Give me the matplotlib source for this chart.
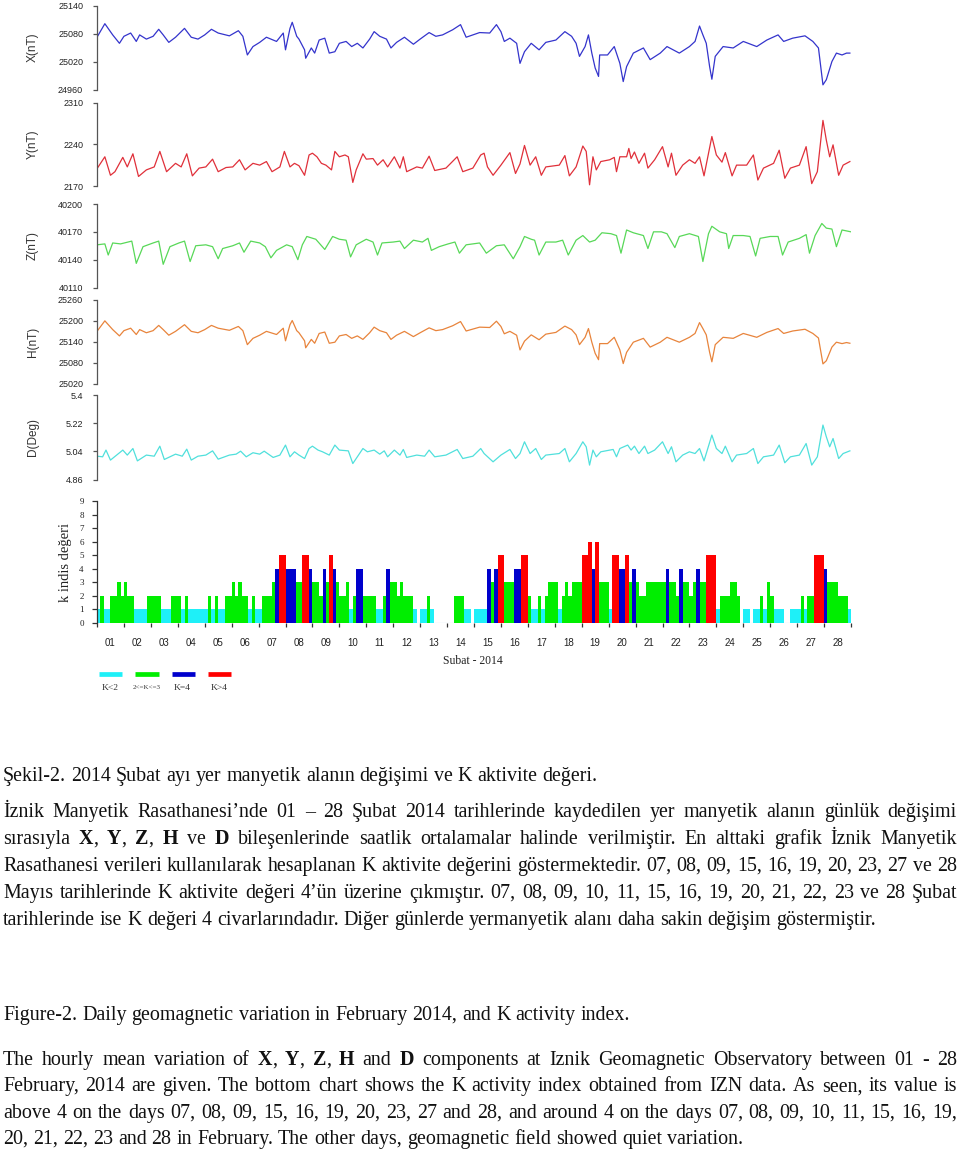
import matplotlib
matplotlib.use("Agg")
import numpy as np
import matplotlib.pyplot as plt

plt.rcParams["font.family"] = "Liberation Sans"

# hourly readings, February 2014 (hour 0 = 01 Feb 00:00)
x_hours = [0, 7, 14, 20, 24, 30, 35, 38, 44, 50, 55, 59, 64, 70, 78, 84, 90, 96, 102, 108,
           118, 126, 130, 134, 139, 145, 151, 160, 166, 168, 172, 174, 178, 180, 185, 186, 191, 194, 198, 203,
           207, 212, 216, 222, 227, 232, 237, 243, 247, 252, 258, 262, 267, 274, 282, 288, 296, 302, 308, 317,
           324, 329, 341, 350, 356, 360, 363, 368, 374, 377, 381, 387, 394, 400, 409, 417, 423, 427, 430, 435,
           438, 441, 444, 447, 448, 455, 461, 466, 469, 472, 478, 487, 493, 502, 508, 519, 528, 533, 537, 540,
           543, 546, 548, 551, 558, 567, 576, 588, 597, 607, 612, 620, 631, 638, 643, 647, 650, 655, 659, 664,
           668, 671]
x_nt = [25072, 25101, 25077, 25059, 25074, 25081, 25063, 25077, 25068, 25074,
        25089, 25077, 25061, 25072, 25091, 25072, 25068, 25077, 25089, 25081,
        25075, 25086, 25074, 25034, 25052, 25061, 25072, 25063, 25081, 25045,
        25091, 25104, 25074, 25068, 25045, 25027, 25049, 25038, 25066, 25070,
        25038, 25041, 25059, 25063, 25052, 25059, 25049, 25068, 25084, 25074,
        25068, 25049, 25061, 25072, 25057, 25068, 25082, 25074, 25077, 25088,
        25099, 25072, 25082, 25081, 25099, 25084, 25063, 25070, 25059, 25016,
        25041, 25059, 25045, 25061, 25066, 25084, 25074, 25059, 25031, 25052,
        25077, 25038, 25006, 24988, 25034, 25034, 25052, 25016, 24977, 25009,
        25038, 25049, 25024, 25038, 25052, 25038, 25052, 25063, 25096, 25077,
        25059, 25009, 24982, 25031, 25052, 25049, 25063, 25052, 25066, 25077,
        25063, 25070, 25075, 25063, 25049, 24970, 24981, 25020, 25038, 25034,
        25038, 25038]
h_nt = [25169, 25199, 25174, 25156, 25171, 25178, 25160, 25174, 25165, 25171,
        25186, 25174, 25158, 25169, 25188, 25169, 25165, 25174, 25186, 25178,
        25172, 25183, 25171, 25131, 25149, 25158, 25169, 25160, 25178, 25142,
        25188, 25200, 25171, 25165, 25142, 25122, 25146, 25135, 25163, 25167,
        25135, 25138, 25156, 25160, 25149, 25156, 25146, 25165, 25181, 25171,
        25165, 25146, 25158, 25169, 25154, 25165, 25179, 25171, 25174, 25185,
        25197, 25170, 25181, 25180, 25198, 25183, 25162, 25169, 25158, 25116,
        25141, 25159, 25145, 25161, 25166, 25184, 25174, 25159, 25131, 25152,
        25177, 25138, 25106, 25088, 25134, 25134, 25152, 25116, 25077, 25109,
        25138, 25149, 25124, 25138, 25152, 25138, 25152, 25163, 25194, 25177,
        25159, 25109, 25082, 25131, 25152, 25149, 25163, 25152, 25166, 25177,
        25163, 25170, 25175, 25163, 25150, 25076, 25085, 25124, 25138, 25134,
        25137, 25135]

y_hours = [0, 7, 12, 16, 23, 27, 32, 37, 44, 51, 56, 62, 70, 75, 80, 85, 91, 97, 103, 108,
           115, 121, 127, 132, 139, 145, 151, 156, 163, 167, 172, 176, 180, 185, 189, 192, 196, 200, 204, 209,
           212, 216, 221, 224, 228, 231, 237, 240, 246, 250, 255, 259, 265, 270, 273, 276, 285, 290, 296, 301,
           311, 321, 326, 335, 342, 345, 348, 353, 360, 368, 373, 377, 381, 386, 391, 396, 400, 412, 417, 421,
           427, 433, 436, 439, 442, 445, 449, 457, 461, 463, 466, 472, 474, 476, 479, 483, 488, 491, 497, 504,
           509, 512, 516, 522, 528, 533, 537, 541, 548, 552, 557, 560, 566, 570, 579, 585, 589, 594, 603, 608,
           613, 618, 626, 632, 637, 642, 647, 650, 653, 656, 661, 665, 671]
y_nt = [2199, 2219, 2188, 2194, 2218, 2202, 2224, 2186, 2197, 2202,
        2228, 2194, 2208, 2202, 2224, 2187, 2200, 2202, 2215, 2194,
        2201, 2202, 2214, 2197, 2208, 2205, 2211, 2194, 2202, 2228,
        2202, 2208, 2204, 2188, 2222, 2225, 2219, 2208, 2205, 2197,
        2228, 2219, 2222, 2219, 2176, 2197, 2224, 2215, 2216, 2205,
        2214, 2202, 2219, 2200, 2219, 2194, 2202, 2200, 2220, 2196,
        2200, 2219, 2194, 2200, 2222, 2225, 2202, 2188, 2205, 2226,
        2191, 2207, 2238, 2205, 2219, 2188, 2202, 2205, 2221, 2187,
        2202, 2237, 2228, 2172, 2219, 2197, 2211, 2214, 2218, 2194,
        2219, 2219, 2233, 2216, 2227, 2208, 2225, 2200, 2214, 2236,
        2202, 2225, 2188, 2205, 2214, 2208, 2219, 2187, 2253, 2222,
        2210, 2226, 2187, 2205, 2205, 2222, 2180, 2200, 2208, 2230,
        2183, 2200, 2205, 2236, 2174, 2194, 2280, 2247, 2219, 2239,
        2188, 2205, 2211]

z_hours = [0, 7, 10, 14, 21, 31, 35, 41, 50, 55, 59, 65, 73, 78, 83, 88, 97, 103, 108, 112,
           121, 127, 131, 137, 145, 150, 155, 160, 169, 174, 179, 183, 187, 195, 203, 210, 216, 222, 226, 231,
           240, 246, 250, 254, 264, 270, 274, 282, 290, 295, 298, 305, 313, 319, 323, 329, 341, 347, 356, 363,
           371, 377, 381, 387, 390, 394, 400, 409, 415, 420, 427, 433, 439, 444, 450, 458, 463, 467, 472, 478,
           487, 491, 496, 503, 508, 515, 519, 528, 536, 540, 545, 548, 555, 561, 563, 567, 576, 582, 587, 591,
           600, 607, 611, 616, 626, 632, 635, 640, 646, 650, 655, 659, 664, 672]
z_nt = [40156, 40157, 40145, 40158, 40157, 40160, 40136, 40154, 40158, 40160,
        40135, 40154, 40158, 40160, 40138, 40155, 40156, 40154, 40141, 40152,
        40155, 40158, 40148, 40160, 40158, 40154, 40142, 40150, 40156, 40154,
        40140, 40156, 40165, 40162, 40151, 40165, 40162, 40161, 40143, 40156,
        40162, 40159, 40145, 40158, 40159, 40160, 40152, 40161, 40159, 40163,
        40150, 40154, 40157, 40159, 40147, 40156, 40158, 40147, 40155, 40156,
        40141, 40154, 40165, 40162, 40161, 40145, 40159, 40159, 40161, 40145,
        40161, 40166, 40159, 40161, 40169, 40168, 40166, 40147, 40172, 40169,
        40166, 40152, 40170, 40170, 40168, 40153, 40165, 40168, 40165, 40138,
        40168, 40176, 40170, 40168, 40152, 40166, 40166, 40165, 40144, 40163,
        40165, 40165, 40145, 40159, 40163, 40167, 40147, 40166, 40179, 40174,
        40173, 40154, 40172, 40170]

d_hours = [0, 5, 8, 12, 23, 27, 32, 36, 44, 51, 56, 60, 70, 76, 80, 84, 90, 97, 103, 108,
           118, 124, 128, 133, 139, 145, 149, 157, 163, 168, 172, 176, 180, 185, 189, 192, 197, 201, 207, 212,
           216, 224, 228, 231, 237, 241, 247, 252, 256, 259, 265, 270, 273, 276, 285, 292, 296, 301, 311, 321,
           326, 335, 342, 345, 353, 360, 368, 373, 377, 381, 386, 391, 396, 400, 412, 417, 421, 427, 433, 436,
           439, 442, 445, 449, 460, 463, 466, 473, 476, 479, 483, 488, 491, 497, 504, 509, 512, 516, 522, 528,
           533, 537, 541, 548, 552, 557, 560, 566, 570, 579, 585, 589, 594, 603, 608, 613, 618, 626, 632, 637,
           642, 647, 650, 653, 656, 661, 665, 671]
d_deg = [5.009, 5.005, 5.048, 4.984, 5.048, 5.016, 5.058, 4.979, 5.016, 5.009,
         5.073, 4.988, 5.022, 5.009, 5.054, 4.984, 5.009, 5.016, 5.043, 4.990,
         5.016, 5.022, 5.041, 5.005, 5.031, 5.022, 5.041, 5.001, 5.016, 5.080,
         5.005, 5.037, 5.016, 4.994, 5.058, 5.073, 5.048, 5.037, 5.016, 5.080,
         5.048, 5.043, 4.962, 4.994, 5.058, 5.037, 5.048, 5.022, 5.043, 5.005,
         5.048, 5.016, 5.052, 5.001, 5.016, 5.009, 5.048, 5.005, 5.016, 5.052,
         4.994, 5.009, 5.058, 5.026, 4.973, 5.016, 5.052, 4.994, 5.026, 5.101,
         5.026, 5.058, 4.988, 5.016, 5.026, 5.058, 4.973, 5.026, 5.101, 5.069,
         4.952, 5.048, 5.005, 5.037, 5.052, 5.005, 5.058, 5.080, 5.048, 5.073,
         5.026, 5.073, 5.026, 5.048, 5.101, 5.026, 5.069, 4.973, 5.016, 5.037,
         5.026, 5.058, 4.979, 5.144, 5.058, 5.026, 5.073, 4.973, 5.016, 5.026,
         5.058, 4.962, 5.005, 5.016, 5.080, 4.967, 5.005, 5.016, 5.090, 4.952,
         5.005, 5.208, 5.133, 5.069, 5.122, 4.994, 5.026, 5.043]

# 3-hourly K index, 8 values per day, 01..28 Feb
k_index = [
    1, 2, 1, 1, 2, 2, 3, 2,
    3, 2, 2, 1, 1, 1, 1, 2,
    2, 2, 2, 1, 1, 1, 2, 2,
    2, 1, 2, 1, 1, 1, 1, 1,
    1, 2, 1, 2, 1, 1, 2, 2,
    3, 2, 3, 2, 2, 1, 2, 1,
    1, 2, 2, 2, 3, 4, 5, 5,
    4, 4, 4, 3, 3, 5, 5, 4,
    3, 3, 2, 4, 3, 5, 4, 3,
    2, 2, 3, 1, 2, 4, 4, 2,
    2, 2, 2, 1, 1, 2, 4, 3,
    3, 2, 3, 2, 2, 2, 1, 0,
    1, 1, 2, 1, 0, 0, 0, 0,
    0, 0, 2, 2, 2, 1, 1, 0,
    1, 1, 1, 1, 4, 3, 4, 5,
    5, 3, 3, 3, 4, 4, 5, 5,
    2, 1, 1, 2, 1, 2, 3, 3,
    3, 1, 2, 3, 2, 3, 3, 3,
    5, 5, 6, 4, 6, 3, 3, 3,
    1, 5, 5, 4, 4, 5, 3, 4,
    3, 2, 2, 3, 3, 3, 3, 3,
    3, 4, 3, 3, 2, 4, 3, 3,
    2, 3, 4, 3, 3, 5, 5, 5,
    1, 2, 2, 2, 3, 3, 2, 0,
    1, 1, 0, 1, 1, 2, 1, 3,
    2, 1, 1, 1, 0, 0, 1, 1,
    1, 2, 1, 2, 2, 5, 5, 5,
    4, 3, 3, 3, 2, 2, 2, 1,
]
days = ["%02d" % d for d in range(1, 29)]
k_labels = ["K<2", "2<=K<=3", "K=4", "K>4"]
k_colors = ["#1ef0f8", "#00ee00", "#0000cc", "#ff0000"]

caption_tr = "Şekil-2. 2014 Şubat ayı yer manyetik alanın değişimi ve K aktivite değeri."
para_tr = [
    "İznik Manyetik Rasathanesi’nde 01 – 28 Şubat 2014 tarihlerinde kaydedilen yer manyetik alanın günlük değişimi",
    "sırasıyla **X**, **Y**, **Z**, **H** ve **D** bileşenlerinde saatlik ortalamalar halinde verilmiştir. En alttaki grafik İznik Manyetik",
    "Rasathanesi verileri kullanılarak hesaplanan K aktivite değerini göstermektedir. 07, 08, 09, 15, 16, 19, 20, 23, 27 ve 28",
    "Mayıs tarihlerinde K aktivite değeri 4’ün üzerine çıkmıştır. 07, 08, 09, 10, 11, 15, 16, 19, 20, 21, 22, 23 ve 28 Şubat",
    "tarihlerinde ise K değeri 4 civarlarındadır. Diğer günlerde yermanyetik alanı daha sakin değişim göstermiştir.",
]
caption_en = "Figure-2. Daily geomagnetic variation in February 2014, and K activity index."
para_en = [
    "The hourly mean variation of **X**, **Y**, **Z**, **H** and **D** components at Iznik Geomagnetic Observatory between 01 - 28",
    "February, 2014 are given. The bottom chart shows the K activity index obtained from IZN data. As seen, its value is",
    "above 4 on the days 07, 08, 09, 15, 16, 19, 20, 23, 27 and 28, and around 4 on the days 07, 08, 09, 10, 11, 15, 16, 19,",
    "20, 21, 22, 23 and 28 in February. The other days, geomagnetic field showed quiet variation.",
]

W, H = 960, 1153
fig = plt.figure(figsize=(W / 100, H / 100), dpi=100)
renderer = fig.canvas.get_renderer()


def px_rect(x0, y0, x1, y1):
    return [x0 / W, 1 - y1 / H, (x1 - x0) / W, (y1 - y0) / H]


AX_L, AX_R = 97, 851
panels = [
    (x_hours, x_nt, "X(nT)", [24960, 25020, 25080, 25140], "#3434cc", 5.5, 89.5),
    (y_hours, y_nt, "Y(nT)", [2170, 2240, 2310], "#e0303a", 102.5, 186),
    (z_hours, z_nt, "Z(nT)", [40110, 40140, 40170, 40200], "#58d858", 204, 287.5),
    (x_hours, h_nt, "H(nT)", [25020, 25080, 25140, 25200, 25260], "#e8843c", 299.5, 383.5),
    (d_hours, d_deg, "D(Deg)", [4.86, 5.04, 5.22, 5.4], "#50e0dc", 395, 479.5),
]

for t, v, name, ticks, color, top, bot in panels:
    ax = fig.add_axes(px_rect(AX_L, top, AX_R, bot))
    ax.plot(t, v, color=color, lw=0.9)
    ax.set_xlim(0, 672)
    ax.set_ylim(ticks[0], ticks[-1])
    ax.set_yticks(ticks, labels=[("%g" % tk) for tk in ticks])
    ax.set_xticks([])
    for s in ["top", "right", "bottom"]:
        ax.spines[s].set_visible(False)
    ax.spines["left"].set_color("#555555")
    ax.spines["left"].set_linewidth(0.9)
    ax.tick_params(axis="y", length=3, width=0.9, color="#555555",
                   labelsize=6.5, labelcolor="#222222", pad=7)
    ax.patch.set_alpha(0)
    fig.text(33 / W, 1 - (top + bot) / 2 / H, name, rotation=90, ha="center",
             va="center", fontsize=8.5, color="#333333")

# K index bars
bx = fig.add_axes(px_rect(AX_L, 501, AX_R, 622.7))
k = np.array(k_index)
pos = np.arange(len(k)) / 8.0
cls = np.where(k < 2, 0, np.where(k <= 3, 1, np.where(k == 4, 2, 3)))
bx.bar(pos, k, width=1 / 8, align="edge", color=[k_colors[c] for c in cls], linewidth=0)
zero = k == 0
bx.bar(pos[zero], k[zero], width=1 / 8, align="edge", color="none",
       edgecolor="#8fc8e0", linewidth=0.8)
bx.set_xlim(0, 28)
bx.set_ylim(0, 9)
for s in ["top", "right", "bottom"]:
    bx.spines[s].set_visible(False)
bx.spines["left"].set_color("#333333")
bx.spines["left"].set_linewidth(0.9)
bx.set_yticks(range(10), labels=[str(i) for i in range(10)],
              fontfamily="Liberation Serif", fontsize=6.5)
bx.tick_params(axis="y", length=3.5, width=0.9, color="#333333", pad=6, labelcolor="#222222")
bx.set_xticks(range(29), labels=[""] * 29)
bx.set_xticks(np.arange(28) + 0.5, labels=days, minor=True, fontsize=7)
bx.tick_params(axis="x", which="major", length=3, width=0.9, color="#333333")
bx.tick_params(axis="x", which="minor", length=0, pad=11, labelcolor="#222222")
bx.patch.set_alpha(0)
fig.text(66 / W, 1 - 562 / H, "k indis değeri", rotation=90, ha="center", va="center",
         fontsize=10.5, family="Liberation Serif", color="#222222")
fig.text(473 / W, 1 - 661.5 / H, "Subat - 2014", ha="center", va="center",
         fontsize=8.4, family="Liberation Serif", color="#222222")

# legend strip below the bar chart
lax = fig.add_axes(px_rect(99, 668, 244.2, 694))
for i, (c, lab) in enumerate(zip(k_colors, k_labels)):
    lax.plot([i, i + 0.64], [1, 1], color=c, lw=3.4, solid_capstyle="butt")
    lax.text(i + 0.3, 0.05, lab, ha="center", va="center", family="Liberation Serif",
             fontsize=5 if i == 1 else 6.8, color="#333333")
lax.set_xlim(0, 4)
lax.set_ylim(-0.4, 1.4)
lax.axis("off")

# caption and paragraphs, justified like the page
TEXT_L, TEXT_R = 3, 957
BODY = 14.4


def put_line(y_base, line, justify):
    words = []
    total = 0.0
    for w in line.split(" "):
        parts = w.split("**")
        segs = []
        for i, p in enumerate(parts):
            if not p:
                continue
            tx = fig.text(0, 1 - y_base / H, p, fontsize=BODY, family="Liberation Serif",
                          fontweight="bold" if i % 2 else "normal", va="baseline",
                          ha="left", color="#111111")
            wd = tx.get_window_extent(renderer).width
            segs.append((tx, wd))
            total += wd
        words.append(segs)
    if justify and len(words) > 1:
        gap = (TEXT_R - TEXT_L - total) / (len(words) - 1)
    else:
        gap = BODY * 100 / 72 * 0.25
    x = TEXT_L
    for segs in words:
        for tx, wd in segs:
            tx.set_x(x / W)
            x += wd
        x += gap


put_line(781, caption_tr, False)
for i, line in enumerate(para_tr):
    put_line(817 + i * 27.0, line, i < len(para_tr) - 1)
put_line(1020, caption_en, False)
for i, line in enumerate(para_en):
    put_line(1065 + i * 26.3, line, i < len(para_en) - 1)

fig.savefig("out.png", dpi=100)
